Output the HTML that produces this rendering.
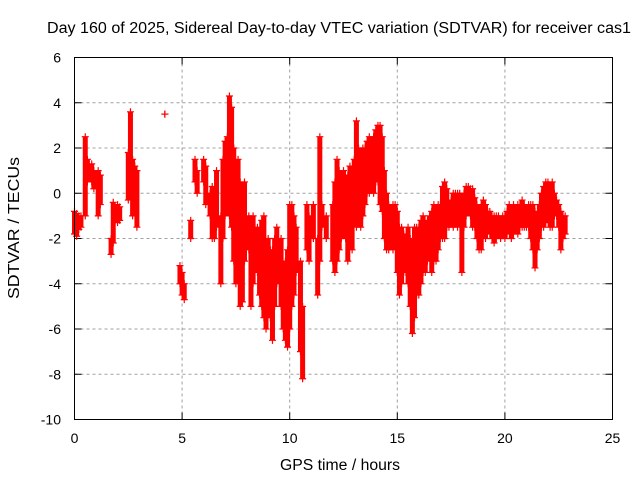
<!DOCTYPE html>
<html><head><meta charset="utf-8"><style>
body{margin:0;background:#fff}
svg{display:block;font-family:"Liberation Sans",sans-serif}
</style></head><body>
<svg id="chart" width="640" height="480" viewBox="0 0 640 480" xmlns="http://www.w3.org/2000/svg">
<rect width="640" height="480" fill="#fff"/>
<text x="339" y="33" font-size="15.5" text-anchor="middle" textLength="584" lengthAdjust="spacingAndGlyphs">Day 160 of 2025, Sidereal Day-to-day VTEC variation (SDTVAR) for receiver cas1</text>
<text transform="translate(19,228) rotate(-90)" font-size="15.5" text-anchor="middle" textLength="142" lengthAdjust="spacingAndGlyphs">SDTVAR / TECUs</text>
<text x="340" y="470" font-size="15.5" text-anchor="middle" textLength="120" lengthAdjust="spacingAndGlyphs">GPS time / hours</text>
<g id="grid"></g><g id="ticks"></g><g id="marks"></g>
<rect x="74.5" y="57.5" width="538" height="362" fill="none" stroke="#000" stroke-width="1"/>
</svg>
<script>
const xTicks=[0,5,10,15,20,25];
const yTicks=[-10,-8,-6,-4,-2,0,2,4,6];
const times=[0,0.1,0.2,0.3,0.5,0.6,0.8,0.9,1.1,1.2,1.7,1.8,2.0,2.1,2.5,2.6,2.7,2.8,2.9,4.2,4.9,5.0,5.1,5.4,5.6,5.7,6.0,6.1,6.3,6.4,6.5,6.6,6.8,6.9,7.0,7.1,7.2,7.3,7.4,7.5,7.6,7.7,7.8,7.9,8.1,8.2,8.3,8.5,8.6,8.7,8.8,8.9,9.0,9.1,9.2,9.3,9.4,9.6,9.7,9.8,9.9,10.0,10.1,10.2,10.3,10.5,10.6,10.8,10.9,11.1,11.3,11.4,11.5,11.7,12.0,12.1,12.2,12.3,12.4,12.5,12.6,12.7,12.8,12.9,13.0,13.1,13.2,13.3,13.4,13.5,13.6,13.7,13.8,13.9,14.0,14.1,14.2,14.3,14.4,14.5,14.6,14.7,14.8,14.9,15.0,15.1,15.2,15.3,15.4,15.5,15.6,15.7,15.8,15.9,16.0,16.1,16.2,16.3,16.4,16.5,16.6,16.7,16.8,16.9,17.0,17.1,17.2,17.3,17.4,17.5,17.6,17.7,17.8,17.9,18.0,18.1,18.2,18.3,18.4,18.5,18.6,18.7,18.8,18.9,19.0,19.1,19.2,19.3,19.4,19.5,19.6,19.7,19.8,19.9,20.0,20.1,20.2,20.3,20.4,20.5,20.6,20.7,20.8,20.9,21.0,21.1,21.2,21.3,21.4,21.5,21.6,21.7,21.8,21.9,22.0,22.1,22.2,22.3,22.4,22.5,22.6,22.7,22.8];
const lows=[-1.8,-1.9,-1.6,-1.5,-1.0,0.5,0.5,0.2,-1.0,-0.5,-2.7,-2.2,-1.3,-1.2,-0.3,0,-1,-0.5,-1.5,3.5,-4,-4.5,-4.7,-2.0,0.5,0,0.5,-0.5,-1.0,-2,-2,-1.5,-4,-2,-1,-0.5,-1,-1.5,-3,-4,-3,-5,-4.8,-3,-2.5,-5,-4,-3.5,-4.5,-5,-5.5,-6,-5,-5.5,-6.5,-5,-4,-5,-6,-6.5,-6.8,-6,-5,-4.5,-3.5,-7,-8.2,-2.5,-3,-2,-4.5,-3,-1.5,-2,-3,-3.5,-3,-2.5,-2,-1.5,-2,-3,-1.5,-2.5,-1,-1.5,-0.5,-1.5,-1,-0.5,0,0,0.5,0,0.5,0.5,-0.5,-0.8,-2,-2.5,-2.5,-2,-2.5,-2,-3.5,-4.5,-4,-3.5,-3.5,-4,-5,-6.2,-5.5,-4.5,-4.5,-4,-3.5,-3.5,-3,-2.5,-3.5,-3,-3,-2.5,-2,-2,-2,-1.5,-1.5,-1,-1.5,-1,-1.5,-1.2,-3.5,-1.5,-1,-0.8,-1,-1.5,-1.5,-2,-2.5,-2.5,-1.5,-2,-1.5,-1.8,-2,-2.2,-2,-1.8,-2,-1.8,-2,-1.8,-1.5,-2,-1.8,-1.5,-1.8,-1.5,-1.5,-1.5,-1.5,-1.5,-2,-2.5,-3.3,-2.5,-2,-1.5,-1.5,-1.3,-1,-1.5,-1.5,-1,-1,-1.5,-2.5,-2,-1.8];
const highs=[-0.8,-0.9,-1.0,-1.0,2.5,1.5,1.3,1.0,1.0,0.8,-2.0,-0.4,-0.5,-0.6,1.8,3.6,1.5,1.2,1.0,3.5,-3.2,-3.5,-4.0,-1.2,1.5,1.0,1.5,1.2,0,0.3,-0.5,1.0,-1,1.5,2.3,2.5,4.3,3.8,2,1,1.5,0.5,-0.5,0.5,-1,-1.5,-1,-1.5,-2,-1.2,-1,-3,-2,-2.5,-2.5,-2,-1.5,-2,-3.5,-3,-2.5,-0.5,-0.5,-1,-1.5,-3,-5,-0.5,-1,-0.5,-2,2.5,-0.5,-1,-0.5,0.5,1.5,1,0.5,1,0.5,0.8,1.2,0.5,1.5,3.2,2,1.5,2,2,2.3,2.5,2.2,2.5,2.8,3,3,2.5,1,0,-0.5,-0.8,-0.5,-0.5,-0.8,-1.5,-1.5,-1.8,-2,-1.5,-2,-2.5,-1.5,-1.5,-1.5,-1.2,-1,-1.5,-1.2,-1,-0.8,-0.5,-1,-0.5,-0.5,0.3,0.5,0.2,-0.5,-0.3,0,0,0,0,-0.2,0,0.3,0.3,0.2,0.2,-0.2,-0.5,-1,-0.5,-0.3,-0.5,-0.8,-0.8,-1,-1,-1,-1,-1.2,-1,-1,-0.8,-0.5,-0.8,-0.5,-0.8,-0.5,-0.5,-0.3,-0.5,-0.7,-0.5,-0.5,-0.5,-0.8,-1,-0.5,0,0.3,0.5,0.5,0.3,0.5,0,-0.3,-0.5,-0.8,-1,-1];
const NS="http://www.w3.org/2000/svg";
const X0=74.5,X1=612.5,Y0=419.5,Y1=57.5;
function xs(t){return X0+(t-0)/(25-0)*(X1-X0);}
function ys(v){return Y0-(v+10)/16*(Y0-Y1);}
function mk(tag,attrs,parent){const e=document.createElementNS(NS,tag);for(const k in attrs)e.setAttribute(k,attrs[k]);parent.appendChild(e);return e;}
const grid=document.getElementById('grid'),ticks=document.getElementById('ticks'),marks=document.getElementById('marks');
xTicks.forEach(t=>{
  const x=xs(t);
  if(t>0&&t<25){const g=mk('line',{x1:x,x2:x,y1:Y1,y2:Y0,stroke:'#a0a0a0','stroke-dasharray':'3,3'},grid);
  
  }
  const a=mk('line',{x1:x,x2:x,y1:Y0,y2:Y0-7,stroke:'#000'},ticks);
  
  
  const b=mk('line',{x1:x,x2:x,y1:Y1,y2:Y1+7,stroke:'#000'},ticks);
  
  
  const l=mk('text',{x:x,y:443,'font-size':'14','text-anchor':'middle'},ticks);l.textContent=t;
  
  
});
yTicks.forEach(v=>{
  const y=ys(v);
  if(v>-10&&v<6){const g=mk('line',{x1:X0,x2:X1,y1:y,y2:y,stroke:'#a0a0a0','stroke-dasharray':'3,3'},grid);
  
  }
  const a=mk('line',{x1:X0,x2:X0+7,y1:y,y2:y,stroke:'#000'},ticks);
  
  
  const b=mk('line',{x1:X1,x2:X1-7,y1:y,y2:y,stroke:'#000'},ticks);
  
  
  const l=mk('text',{x:61,y:y+5,'font-size':'14','text-anchor':'end'},ticks);l.textContent=v;
  
  
});
times.forEach((t,i)=>{
  const x=xs(t),yl=ys(lows[i]),yh=ys(highs[i]);
  const s=mk('line',{x1:x,x2:x,y1:yl,y2:yh,stroke:'#f00','stroke-width':'5'},marks);
  
  
  [yl,yh].forEach(y=>{
    const p=mk('path',{d:`M${x-3.5},${y}H${x+3.5}M${x},${y-3.5}V${y+3.5}`,stroke:'#f00','stroke-width':'1.2',fill:'none'},marks);
    
    
  });
});
</script>
</body></html>
